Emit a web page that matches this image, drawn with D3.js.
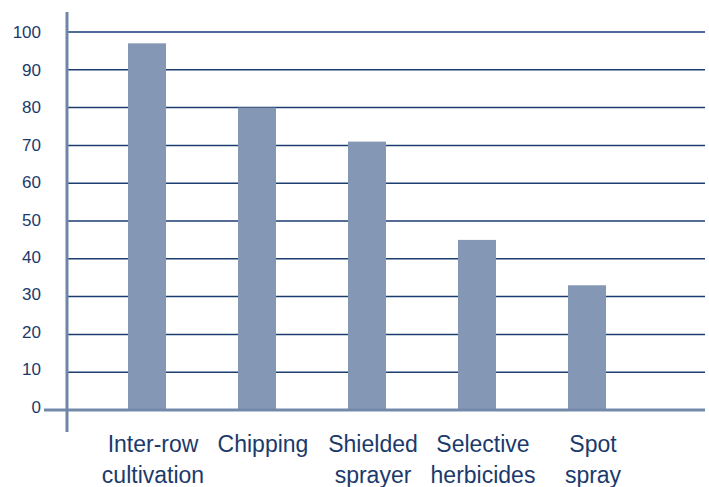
<!DOCTYPE html>
<html>
<head>
<meta charset="utf-8">
<script src="https://cdn.jsdelivr.net/npm/d3@7"></script>
<style>
  html, body { margin: 0; padding: 0; background: #fff; }
  svg { display: block; }
  text { font-family: "Liberation Sans", Arial, Helvetica, sans-serif; }
</style>
</head>
<body>
<svg id="chart" width="709" height="487"></svg>
<script>
const categories = [["Inter-row", "cultivation"], ["Chipping"], ["Shielded", "sprayer"], ["Selective", "herbicides"], ["Spot", "spray"]];
const values = [97, 80, 71, 45, 33];
const yTicks = [0, 10, 20, 30, 40, 50, 60, 70, 80, 90, 100];

const svg = d3.select("#chart");
const axisX = 67, plotRight = 705;
const textColor = "#1b3a6b";

const y = d3.scaleLinear().domain([0, 100]).range([410, 32]);
const keys = categories.map(c => c.join(" "));
const p = 1 - 38 / 110;
const x = d3.scaleBand().domain(keys).range([92, 642]).paddingInner(p).paddingOuter(p / 2);

// gridlines
svg.append("g").selectAll("line")
  .data(yTicks.filter(t => t > 0))
  .join("line")
  .attr("x1", axisX).attr("x2", plotRight)
  .attr("y1", d => y(d)).attr("y2", d => y(d))
  .attr("stroke", d => d === 100 ? "#4f6d9c" : "#1c3d70")
  .attr("stroke-width", d => d === 100 ? 2 : 1.5);

// bars
svg.append("g").selectAll("rect")
  .data(values)
  .join("rect")
  .attr("x", (d, i) => x(keys[i]))
  .attr("width", x.bandwidth())
  .attr("y", d => y(d))
  .attr("height", d => y(0) - y(d))
  .attr("fill", "#8497b5");

// zero line
svg.append("line")
  .attr("x1", 44).attr("x2", plotRight)
  .attr("y1", y(0)).attr("y2", y(0))
  .attr("stroke", "#7489aa").attr("stroke-width", 3);

// y axis line
svg.append("line")
  .attr("x1", axisX).attr("x2", axisX)
  .attr("y1", 12).attr("y2", 432)
  .attr("stroke", "#7086a8").attr("stroke-width", 3);

// y axis labels
const yAxis = d3.axisLeft(y).tickValues(yTicks).tickSize(0).tickPadding(26).tickFormat(d3.format("d"));
const gy = svg.append("g").attr("transform", `translate(${axisX},0)`).call(yAxis);
gy.select(".domain").remove();
gy.selectAll("text")
  .attr("fill", textColor)
  .style("font-size", "17px")
  .style("font-family", "'Liberation Sans', Arial, sans-serif")
  .attr("dy", (d) => (0.35 - (1 - d / 100) * 0.22) + "em");

// x labels
const xl = svg.append("g").selectAll("text")
  .data(categories)
  .join("text")
  .attr("text-anchor", "middle")
  .attr("fill", textColor)
  .style("font-size", "23px")
  .attr("x", (d, i) => x(keys[i]) + x.bandwidth() / 2 + 6)
  .attr("y", 452);
xl.selectAll("tspan")
  .data(d => d)
  .join("tspan")
  .attr("x", function() { return d3.select(this.parentNode).attr("x"); })
  .attr("dy", (d, i) => i === 0 ? 0 : 31)
  .text(d => d);
</script>
</body>
</html>
